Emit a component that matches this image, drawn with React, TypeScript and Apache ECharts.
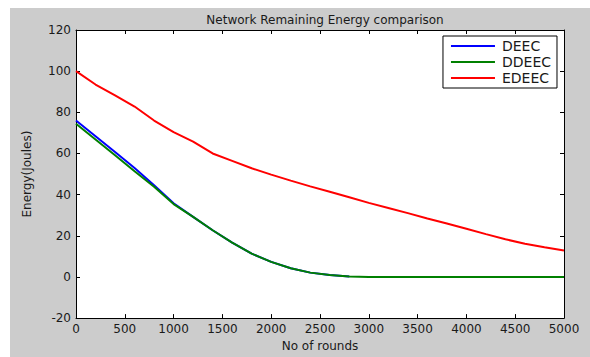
import React, { useEffect, useRef } from "react";
import * as echarts from "echarts";

const rounds = [0, 200, 400, 600, 800, 1000, 1200, 1400, 1600, 1800, 2000, 2200, 2400, 2600, 2800, 3000, 3200, 3400, 3600, 3800, 4000, 4200, 4400, 4600, 4800, 5000];
const deec = [76, 68.4, 60.7, 52.9, 44.6, 35.8, 29.2, 22.7, 16.7, 11.3, 7.3, 4.2, 2.1, 0.9, 0.2];
const ddeec = [74.4, 66.8, 59.1, 51.4, 43.8, 35.4, 29.2, 22.7, 16.7, 11.3, 7.3, 4.2, 2.1, 0.9, 0.2, 0, 0, 0, 0, 0, 0, 0, 0, 0, 0, 0];
const edeec = [100, 93.5, 88.2, 82.8, 76.0, 70.4, 65.8, 60.0, 56.4, 52.8, 49.7, 46.8, 44.0, 41.4, 38.7, 36.0, 33.5, 31.0, 28.4, 26.0, 23.4, 20.8, 18.3, 16.1, 14.4, 12.8];
const seriesNames = ["DEEC", "DDEEC", "EDEEC"];
const seriesColors = ["#0000ff", "#008000", "#ff0000"];

const FONT = "DejaVu Sans";

export default function App() {
  const ref = useRef<HTMLDivElement>(null);
  useEffect(() => {
    if (!ref.current) return;
    const chart = echarts.init(ref.current, null, { renderer: "svg" });
    const values = [deec, ddeec, edeec];
    const axisCommon = {
      type: "value" as const,
      axisLine: { show: true, onZero: false, lineStyle: { color: "#000", width: 1 } },
      axisTick: { show: true, inside: true, length: 4, lineStyle: { color: "#000" } },
      splitLine: { show: false },
    };
    chart.setOption({
      animation: false,
      title: {
        text: "Network Remaining Energy comparison",
        left: 320,
        textAlign: "center",
        top: 9,
        textStyle: { fontFamily: FONT, fontSize: 12, fontWeight: "normal", color: "#1a1a1a" },
      },
      legend: {
        orient: "vertical",
        right: 33,
        top: 36,
        backgroundColor: "#fff",
        borderColor: "#000",
        borderWidth: 1,
        borderRadius: 0,
        padding: [3, 6, 3, 8],
        itemWidth: 44,
        itemHeight: 2,
        itemGap: 2,
        icon: "rect",
        textStyle: { fontFamily: FONT, fontSize: 14, color: "#1a1a1a", padding: [0, 0, 0, 2] },
        data: seriesNames,
      },
      grid: {
        left: 76,
        top: 30,
        width: 488,
        height: 297,
        show: true,
        backgroundColor: "#fff",
        borderWidth: 0,
      },
      xAxis: [
        {
          ...axisCommon,
          position: "bottom",
          min: 0,
          max: 5000,
          interval: 500,
          axisLabel: { fontFamily: FONT, fontSize: 12, color: "#1a1a1a", margin: 5, formatter: (v: number) => String(v) },
          name: "No of rounds",
          nameLocation: "middle",
          nameGap: 21,
          nameTextStyle: { fontFamily: FONT, fontSize: 12, color: "#1a1a1a" },
        },
        {
          ...axisCommon,
          position: "top",
          min: 0,
          max: 5000,
          interval: 500,
          axisLabel: { show: false },
        },
      ],
      yAxis: [
        {
          ...axisCommon,
          position: "left",
          min: -20,
          max: 120,
          interval: 20,
          axisLabel: { fontFamily: FONT, fontSize: 12, color: "#1a1a1a", margin: 5, formatter: (v: number) => String(v) },
          name: "Energy(Joules)",
          nameLocation: "middle",
          nameGap: 43,
          nameTextStyle: { fontFamily: FONT, fontSize: 12, color: "#1a1a1a" },
        },
        {
          ...axisCommon,
          position: "right",
          min: -20,
          max: 120,
          interval: 20,
          axisLabel: { show: false },
        },
      ],
      series: seriesNames.map((name, i) => ({
        name,
        type: "line",
        showSymbol: false,
        symbol: "none",
        color: seriesColors[i],
        lineStyle: { width: 2, color: seriesColors[i] },
        data: values[i].map((v, j) => [rounds[j], v]),
      })),
    });
    return () => chart.dispose();
  }, []);
  return (
    <div style={{ position: "fixed", left: 0, top: 0, width: 590, height: 357, background: "#fff" }}>
      <div style={{ position: "absolute", left: 10, top: 8, width: 580, height: 349, background: "#cccccc" }} />
      <div ref={ref} style={{ position: "absolute", left: 0, top: 0, width: 590, height: 357 }} />
    </div>
  );
}
